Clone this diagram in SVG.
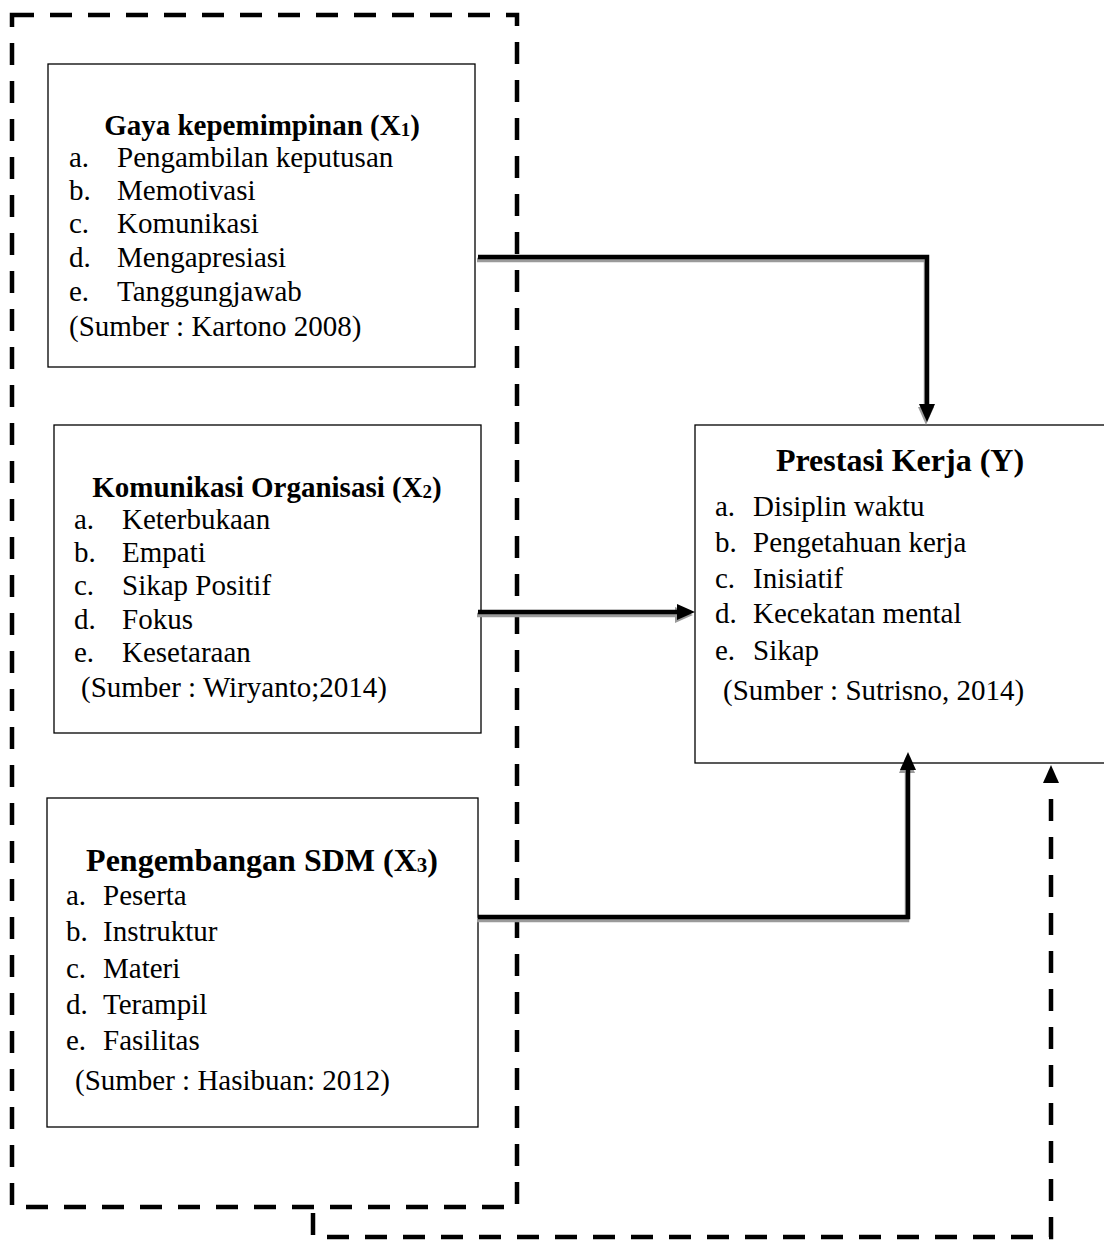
<svg xmlns="http://www.w3.org/2000/svg" width="1104" height="1241" viewBox="0 0 1104 1241">
<style>
  .box{fill:#fff;stroke:#000;stroke-width:1.3}
  text{font-family:"Liberation Serif","Times New Roman",serif;font-size:29px;fill:#000}
  .h{font-weight:bold;text-anchor:middle}
  .hb{font-size:32px}
  .dash{fill:none;stroke:#000;stroke-width:4.5;stroke-dasharray:22 16}
  .conn{fill:none;stroke:#000;stroke-width:4.5;marker-end:url(#ah)}
  .shadow{fill:none;stroke:#9a9a9a;stroke-width:4.5;marker-end:url(#ahs)}
  .dconn{fill:none;stroke:#000;stroke-width:4.5;stroke-dasharray:22 16;marker-end:url(#ah)}
</style>
<defs>
  <marker id="ah" viewBox="0 0 18 16" markerWidth="18" markerHeight="16" refX="1" refY="8" orient="auto" markerUnits="userSpaceOnUse">
    <path d="M0,0 L18,8 L0,16 z" fill="#000"/>
  </marker>
  <marker id="ahs" viewBox="0 0 18 16" markerWidth="18" markerHeight="16" refX="1" refY="8" orient="auto" markerUnits="userSpaceOnUse">
    <path d="M0,0 L18,8 L0,16 z" fill="#9a9a9a"/>
  </marker>
</defs>
<rect width="1104" height="1241" fill="#fff"/>

<g id="group-boundary">
  <rect class="dash" x="12" y="15" width="505" height="1192"/>
</g>

<g id="node-x1">
  <rect class="box" x="48" y="64" width="427" height="303"/>
  <text class="h" x="262" y="135">Gaya kepemimpinan (X<tspan font-size="19" dy="1">1</tspan><tspan dy="-1">)</tspan></text>
  <text x="69" y="167">a.</text><text x="117" y="167">Pengambilan keputusan</text>
  <text x="69" y="200">b.</text><text x="117" y="200">Memotivasi</text>
  <text x="69" y="233">c.</text><text x="117" y="233">Komunikasi</text>
  <text x="69" y="267">d.</text><text x="117" y="267">Mengapresiasi</text>
  <text x="69" y="301">e.</text><text x="117" y="301">Tanggungjawab</text>
  <text x="69" y="336">(Sumber : Kartono 2008)</text>
</g>

<g id="node-x2">
  <rect class="box" x="54" y="425" width="427" height="308"/>
  <text class="h" x="267" y="497">Komunikasi Organisasi (X<tspan font-size="19" dy="1">2</tspan><tspan dy="-1">)</tspan></text>
  <text x="74" y="529">a.</text><text x="122" y="529">Keterbukaan</text>
  <text x="74" y="562">b.</text><text x="122" y="562">Empati</text>
  <text x="74" y="595">c.</text><text x="122" y="595">Sikap Positif</text>
  <text x="74" y="629">d.</text><text x="122" y="629">Fokus</text>
  <text x="74" y="662">e.</text><text x="122" y="662">Kesetaraan</text>
  <text x="81" y="697">(Sumber : Wiryanto;2014)</text>
</g>

<g id="node-x3">
  <rect class="box" x="47" y="798" width="431" height="329"/>
  <text class="h hb" x="262" y="871">Pengembangan SDM (X<tspan font-size="21" dy="1">3</tspan><tspan dy="-1">)</tspan></text>
  <text x="66" y="905">a.</text><text x="103" y="905">Peserta</text>
  <text x="66" y="941">b.</text><text x="103" y="941">Instruktur</text>
  <text x="66" y="978">c.</text><text x="103" y="978">Materi</text>
  <text x="66" y="1014">d.</text><text x="103" y="1014">Terampil</text>
  <text x="66" y="1050">e.</text><text x="103" y="1050">Fasilitas</text>
  <text x="75" y="1090">(Sumber : Hasibuan: 2012)</text>
</g>

<g id="node-y">
  <rect class="box" x="695" y="425" width="420" height="338"/>
  <text class="h hb" x="900" y="471">Prestasi Kerja (Y)</text>
  <text x="715" y="516">a.</text><text x="753" y="516">Disiplin waktu</text>
  <text x="715" y="552">b.</text><text x="753" y="552">Pengetahuan kerja</text>
  <text x="715" y="588">c.</text><text x="753" y="588">Inisiatif</text>
  <text x="715" y="623">d.</text><text x="753" y="623">Kecekatan mental</text>
  <text x="715" y="660">e.</text><text x="753" y="660">Sikap</text>
  <text x="723" y="700">(Sumber : Sutrisno, 2014)</text>
</g>

<g id="connectors">
  <!-- shadows -->
  <path class="shadow" d="M478,257 H927 V405" transform="translate(-1,3)"/>
  <path class="shadow" d="M478,612 H677" transform="translate(-1,3)"/>
  <path class="shadow" d="M478,917 H908 V769" transform="translate(-1,3)"/>
  <!-- X1 -> Y -->
  <path class="conn" d="M478,257 H927 V405"/>
  <!-- X2 -> Y -->
  <path class="conn" d="M478,612 H678"/>
  <!-- X3 -> Y -->
  <path class="conn" d="M478,917 H908 V769"/>
  <!-- boundary -> Y -->
  <path class="dconn" d="M313,1213 V1237 H1051 V782"/>
</g>
</svg>
